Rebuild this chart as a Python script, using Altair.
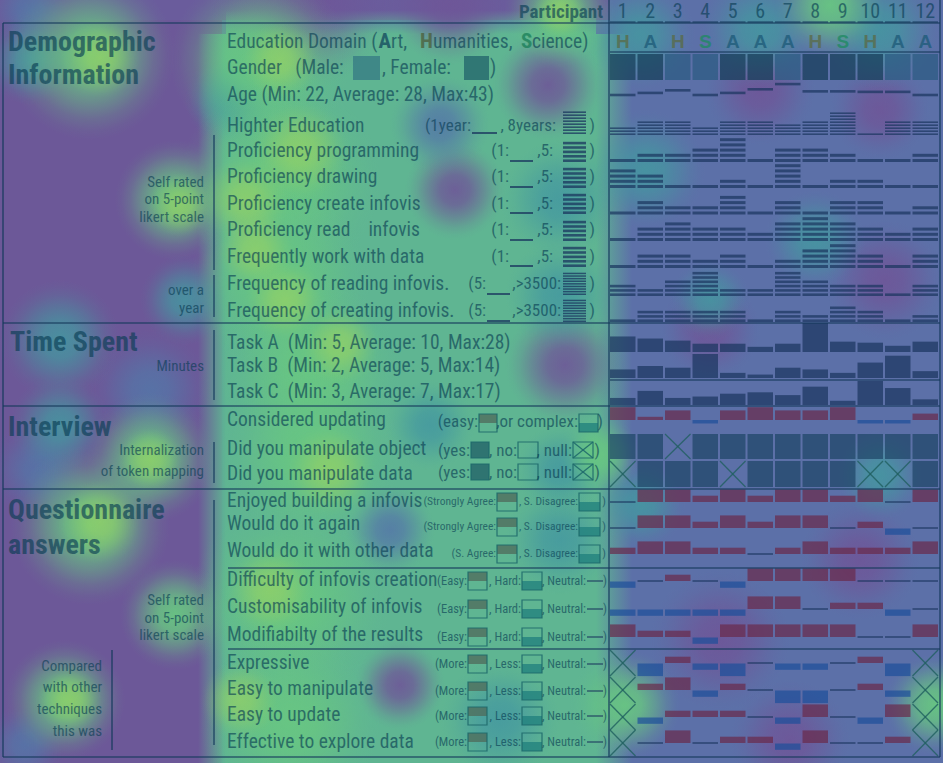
import altair as alt
import pandas as pd

W, H = 943, 763

# ---------------- participant data ----------------
participants = list(range(1, 13))
education = ["H", "A", "H", "S", "A", "A", "A", "H", "S", "H", "A", "A"]
gender = ["F", "F", "M", "M", "F", "F", "M", "F", "F", "F", "M", "M"]
age = [22, 26, 31, 22, 26, 33, 43, 29, 29, 28, 28, 22]
higher_education = [3, 5, 5, 3, 5, 5, 4, 5, 8, 1, 5, 5]
prof_programming = [1, 2, 2, 3, 5, 1, 3, 3, 2, 1, 1, 2]
prof_drawing = [4, 3, 1, 1, 2, 1, 5, 1, 2, 2, 1, 1]
prof_create = [1, 3, 2, 2, 4, 1, 3, 1, 3, 3, 1, 2]
prof_read = [1, 3, 4, 3, 3, 2, 4, 5, 4, 3, 2, 3]
work_with_data = [1, 3, 3, 2, 3, 1, 2, 4, 5, 3, 1, 3]
freq_reading = [3, 2, 4, 6, 2, 2, 6, 4, 3, 3, 1, 3]
freq_creating = [1, 3, 3, 3, 3, 1, 3, 2, 4, 3, 1, 2]
task_a = [15, 13, 11, 8, 8, 5, 8, 28, 10, 9, 6, 10]
task_b = [5, 7, 6, 14, 3, 2, 6, 5, 3, 9, 13, 4]
task_c = [5, 10, 5, 6, 8, 9, 7, 13, 3, 17, 12, 4]
considered_updating = [4, 1, 3, -1, 3, 4, 3, 3, 4, -1, -1, 2]
manipulate_object = ["yes", "yes", "null", "yes", "yes", "yes", "yes", "yes", "yes", "yes", "yes", "yes"]
manipulate_data = ["null", "yes", "yes", "yes", "null", "yes", "yes", "yes", "yes", "null", "null", "yes"]
enjoyed = [0, 2, 2, 1, 2, 1, 2, 2, 1, 2, 0, 2]
would_again = [0, 2, 2, 1, 2, 1, 2, 2, 0, 1, -1, 0]
other_data = [1, 2, 2, 1, 1, 0, 1, 2, 1, 1, 1, 2]
difficulty = [-1, 0, 1, 0, -1, 2, 2, 2, 2, 0, 0, 0]
customisability = [-1, -1, -1, -1, -1, 2, 2, 0, 1, 1, -1, 0]
modifiability = [2, 1, 1, -1, 2, 2, 2, 2, 2, 0, 0, 2]
expressive = [None, -2, 1, -1, -2, 0, -1, -1, 0, 1, -2, None]
easy_manipulate = [None, 1, 2, -1, 1, 0, -2, -2, 0, 1, -1, None]
easy_update = [None, -1, 1, 1, 1, 0, -1, 2, 0, -1, 2, None]
effective_explore = [None, 0, 2, 0, 1, 1, -1, 2, 0, 0, 1, None]

# ---------------- attention heat map ----------------
# broad zones (x0, x1, y0, y1, colour)
heat_zones = [(0, 943, 0, 763, "#5c70a8"), (0, 222, 0, 763, "#6c5898"), (0, 610, 0, 20, "#6a5c9c")]
text_zone_core = [(226, 596, 34, 763)]
text_zone_left = [(198, 226, 34, 763)]
text_zone_right = [(596, 632, 34, 763)]
text_zone_top = [(226, 596, 10, 34)]
# soft blobs (centre x, centre y, radius)
heat_purple = [(548, 85, 55), (455, 190, 50), (565, 365, 60), (400, 685, 45), (760, 90, 55),
               (880, 110, 50), (885, 280, 60), (710, 330, 50), (720, 640, 70), (790, 740, 60), (860, 560, 60),
               (450, 5, 60), (300, 0, 90)]
heat_blue = [(390, 530, 45), (440, 125, 50), (150, 390, 60), (40, 470, 50), (25, 745, 40), (30, 10, 40)]
heat_teal = [(60, 340, 60), (60, 425, 50), (185, 300, 45), (30, 60, 45), (640, 35, 55), (760, 30, 60),
             (880, 30, 60), (645, 170, 60), (815, 240, 50), (710, 300, 40), (880, 475, 45), (640, 505, 45),
             (560, 200, 60), (560, 295, 55), (430, 425, 45), (560, 540, 55), (560, 470, 45), (500, 720, 60),
             (230, 100, 45)]
heat_green = [(90, 55, 85), (175, 200, 60), (150, 458, 65), (90, 525, 80), (175, 615, 55), (65, 700, 60),
              (260, 60, 90), (280, 180, 100), (280, 280, 90), (310, 370, 90), (310, 455, 90), (290, 600, 100),
              (290, 720, 90), (600, 455, 40), (625, 705, 55), (935, 705, 50), (560, 12, 55), (830, 5, 55)]
heat_yellow = [(100, 58, 40), (300, 150, 50), (245, 200, 45), (255, 250, 40), (285, 300, 40), (180, 205, 32),
               (330, 470, 45), (100, 522, 42), (270, 590, 45), (240, 700, 40), (70, 700, 32), (150, 460, 32),
               (340, 345, 40), (560, 12, 28), (280, 60, 40)]

# ---------------- labels ----------------
row_labels = [
    ("Age (Min: 22, Average: 28, Max:43)", 95), ("Highter Education", 126),
    ("Proficiency programming", 151), ("Proficiency drawing", 177),
    ("Proficiency create infovis", 204), ("Proficiency read\u00a0\u00a0\u00a0\u00a0infovis", 230),
    ("Frequently work with data", 257), ("Frequency of reading infovis.", 284),
    ("Frequency of creating infovis.", 311),
    ("Task A\u00a0\u00a0(Min: 5, Average: 10, Max:28)", 343),
    ("Task B\u00a0\u00a0(Min: 2, Average: 5, Max:14)", 366),
    ("Task C\u00a0\u00a0(Min: 3, Average: 7, Max:17)", 392),
    ("Considered updating", 420), ("Did you manipulate object", 449), ("Did you manipulate data", 474),
    ("Enjoyed building a infovis", 501), ("Would do it again", 524), ("Would do it with other data", 551),
    ("Difficulty of infovis creation", 580), ("Customisability of infovis", 607),
    ("Modifiabilty of the results", 635), ("Expressive", 663), ("Easy to manipulate", 689),
    ("Easy to update", 715), ("Effective to explore data", 742),
]
titles = [("Demographic", 8, 43), ("Information", 8, 76), ("Time Spent", 10, 343),
          ("Interview", 8, 428), ("Questionnaire", 8, 511), ("answers", 8, 546)]
side_notes = [("Self rated", 204, 182), ("on 5-point", 204, 199), ("likert scale", 204, 217),
              ("over a", 204, 290), ("year", 204, 308), ("Minutes", 204, 366),
              ("Internalization", 204, 450), ("of token mapping", 204, 471),
              ("Self rated", 204, 600), ("on 5-point", 204, 618), ("likert scale", 204, 635),
              ("Compared", 102, 666), ("with other", 102, 687), ("techniques", 102, 709), ("this was", 102, 731)]

# ---------------- layout ----------------
COL0, PITCH, CELL = 610.0, 27.5, 25.5
FONT = "Liberation Sans Narrow, Arial Narrow, Roboto Condensed, DejaVu Sans Condensed, sans-serif"
TXT = "#073b52"
DARK = "#1a355e"
RED = "#6a2a4a"
BLUE = "#1c4f9a"
LINE = "#163a5c"
BASE = "#5c70a8"
GREEN_RGB = (95, 181, 146)

XS = alt.Scale(domain=[0, W], range=[0, W], nice=False, zero=False)
YS = alt.Scale(domain=[0, H], range=[0, H], nice=False, zero=False)


def left(p):
    return COL0 + (p - 1) * PITCH


def enc():
    return dict(x=alt.X("x:Q", scale=XS, axis=None), x2="x2:Q",
                y=alt.Y("y:Q", scale=YS, axis=None), y2="y2:Q")


def rects(rows, **mk):
    df = pd.DataFrame(rows, columns=["x", "x2", "y", "y2", "c"])
    return alt.Chart(df).mark_rect(**mk).encode(color=alt.Color("c:N", scale=None), **enc())


def rules(rows, **mk):
    df = pd.DataFrame(rows, columns=["x", "x2", "y", "y2"])
    return alt.Chart(df).mark_rule(**mk).encode(**enc())


def texts(rows, **mk):
    df = pd.DataFrame(rows, columns=["t", "x", "y"])
    return alt.Chart(df).mark_text(baseline="middle", font=FONT, **mk).encode(
        x=alt.X("x:Q", scale=XS, axis=None), y=alt.Y("y:Q", scale=YS, axis=None), text="t:N")


def fade(rows, rgb, a0, a1, horizontal=True):
    r, g, b = rgb
    grad = {"gradient": "linear", "x1": 0, "y1": 0, "x2": 1 if horizontal else 0, "y2": 0 if horizontal else 1,
            "stops": [{"offset": 0, "color": f"rgba({r},{g},{b},{a0})"},
                      {"offset": 1, "color": f"rgba({r},{g},{b},{a1})"}]}
    df = pd.DataFrame(rows, columns=["x", "x2", "y", "y2"])
    return alt.Chart(df).mark_rect(fill=grad).encode(**enc())


def blobs(data, rgb, peak=0.9):
    r, g, b = rgb
    prof = [(0, 1.0), (0.3, 0.85), (0.55, 0.5), (0.75, 0.2), (0.9, 0.05), (1, 0)]
    grad = {"gradient": "radial", "x1": 0.5, "y1": 0.5, "r1": 0, "x2": 0.5, "y2": 0.5, "r2": 0.5,
            "stops": [{"offset": o, "color": f"rgba({r},{g},{b},{peak * a:.3f})"} for o, a in prof]}
    df = pd.DataFrame([(cx - s, cx + s, cy - s, cy + s) for cx, cy, s in data], columns=["x", "x2", "y", "y2"])
    return alt.Chart(df).mark_rect(fill=grad).encode(**enc())


layers = []
layers.append(rects(heat_zones))
layers.append(fade(text_zone_core, GREEN_RGB, 1, 1))
layers.append(fade(text_zone_left, GREEN_RGB, 0, 1))
layers.append(fade(text_zone_right, GREEN_RGB, 1, 0))
layers.append(fade(text_zone_top, GREEN_RGB, 0, 1, horizontal=False))
layers.append(blobs(heat_purple, (110, 86, 152), 0.9))
layers.append(blobs(heat_blue, (84, 118, 168), 0.85))
layers.append(blobs(heat_teal, (68, 152, 160), 0.85))
layers.append(blobs(heat_green, (104, 198, 130), 0.95))
layers.append(blobs(heat_yellow, (150, 210, 100), 0.7))

# ---------------- participant marks ----------------
cells = []
for p, g in zip(participants, gender):
    cells.append((left(p), left(p) + CELL, 54, 80, "#123a55" if g == "F" else "#2a5a80"))
for p, a in zip(participants, age):
    yc = 95 - (a - 22) * 0.52
    cells.append((left(p), left(p) + CELL, yc - 1.3, yc + 1.3, DARK))
for vals, base, pitch, th in [(higher_education, 135, 3.0, 1.6), (prof_programming, 162, 5.2, 3.0),
                              (prof_drawing, 188, 5.2, 3.0), (prof_create, 214.5, 5.2, 3.0),
                              (prof_read, 241, 5.2, 3.0), (work_with_data, 268, 5.2, 3.0),
                              (freq_reading, 296, 4.3, 2.6), (freq_creating, 322, 4.3, 2.6)]:
    for p, n in zip(participants, vals):
        for i in range(n):
            y2 = base - i * pitch
            cells.append((left(p), left(p) + CELL, y2 - th, y2, DARK))
for vals, base, top in [(task_a, 352, 29 / 28), (task_b, 378, 24 / 14), (task_c, 405, 24 / 17)]:
    for p, v in zip(participants, vals):
        cells.append((left(p), left(p) + CELL, base - v * top, base, DARK))
for p, v in zip(participants, considered_updating):
    if v > 0:
        cells.append((left(p), left(p) + CELL, 420 - v * 3.2, 420, RED))
    else:
        cells.append((left(p), left(p) + CELL, 420, 420 - v * 3.5, BLUE))
crosses = []
for vals, y0, y1 in [(manipulate_object, 434, 459), (manipulate_data, 461, 487)]:
    for p, v in zip(participants, vals):
        if v == "yes":
            cells.append((left(p), left(p) + CELL, y0, y1, "#1d4565"))
        else:
            crosses.append((left(p), left(p) + CELL, y0, y1))
            crosses.append((left(p), left(p) + CELL, y1, y0))
for vals, yc in [(enjoyed, 502), (would_again, 528), (other_data, 554), (difficulty, 581),
                 (customisability, 609), (modifiability, 637), (expressive, 663),
                 (easy_manipulate, 690), (easy_update, 717), (effective_explore, 743)]:
    for p, v in zip(participants, vals):
        if v is None:
            crosses.append((left(p), left(p) + CELL, yc - 13, yc + 13))
            crosses.append((left(p), left(p) + CELL, yc + 13, yc - 13))
        elif v > 0:
            cells.append((left(p), left(p) + CELL, yc - v * 6.3, yc, RED))
        elif v < 0:
            cells.append((left(p), left(p) + CELL, yc + 0.5, yc + 0.5 - v * 6.3, BLUE))
        else:
            cells.append((left(p), left(p) + CELL, yc - 0.8, yc + 0.8, DARK))
layers.append(rects(cells, opacity=0.7))
layers.append(rules(crosses, color="#1f5f5f", strokeWidth=1.3, opacity=0.8))

# ---------------- legend glyphs in the text column ----------------
glyph = []
for y_bot, n, pitch, th in [(134, 8, 3.0, 1.6)] + [(yb, 5, 4.4, 2.6) for yb in (162, 188, 214, 241, 267)] \
        + [(yb, 9, 2.6, 1.5) for yb in (295, 322)]:
    for i in range(n):
        glyph.append((563, 586, y_bot - i * pitch - th, y_bot - i * pitch, DARK))
for x0, x1, yb in [(472, 497, 134)] + [(510, 533, yb) for yb in (162, 188, 214, 241, 267)] \
        + [(487, 510, yb) for yb in (295, 322)]:
    glyph.append((x0, x1, yb - 2, yb, DARK))
box_out = []
leg_cross = []
TOPF, BOTF = "#4f6a5a", "#1f7f7c"


def box(x0, x1, y0, y1, kind):
    box_out.append((x0, x1, y0, y1, "transparent"))
    ym = (y0 + y1) / 2
    if kind == "top":
        glyph.append((x0, x1, y0, ym, TOPF))
    elif kind == "bottom":
        glyph.append((x0, x1, ym, y1, BOTF))
    elif kind == "full":
        glyph.append((x0, x1, y0, y1, "#1f5f65"))


box(479, 497, 414, 432, "top")
box(579, 598, 414, 432, "bottom")
for y0 in (442, 464):
    box(471, 489, y0, y0 + 16, "full")
    box(518, 538, y0, y0 + 16, "none")
    box(573, 593, y0, y0 + 16, "none")
    leg_cross += [(573, 593, y0, y0 + 16), (573, 593, y0 + 16, y0)]
for y0 in (493, 518, 545):
    box(497, 517, y0, y0 + 18, "top")
    box(579, 600, y0, y0 + 18, "bottom")
for y0 in (572, 600, 628, 655, 682, 707, 733):
    box(468, 487, y0, y0 + 18, "top")
    box(522, 542, y0, y0 + 18, "bottom")
    glyph.append((587, 603, y0 + 8.3, y0 + 9.7, DARK))
layers.append(rects(glyph, opacity=0.75))
layers.append(rects(box_out, stroke="#1f6a6c", strokeWidth=1.2, opacity=0.9))
layers.append(rules(leg_cross, color="#1f6a6c", strokeWidth=1.2, opacity=0.9))

# ---------------- lines ----------------
lines = [(3, 940, 23, 23), (3, 940, 323, 323), (3, 940, 406, 406), (3, 940, 489, 489), (3, 940, 757, 757),
         (3, 3, 23, 757), (940, 940, 0, 757), (609, 609, 0, 757),
         (228, 940, 568, 568), (228, 940, 649, 649), (610, 940, 52, 52), (610, 940, 380, 380),
         (214, 214, 135, 270), (214, 214, 275, 317), (214, 214, 330, 400), (214, 214, 442, 483),
         (214, 214, 500, 745), (112, 112, 650, 750)]
layers.append(rules(lines, color=LINE, strokeWidth=1.6, opacity=0.75))

# ---------------- texts ----------------
layers.append(texts([(t, 227, y) for t, y in row_labels], align="left", fontSize=19.5, color=TXT, opacity=0.62))
layers.append(texts([("Education Domain (", 227, 42), ("rt, ", 391, 42), ("umanities, ", 433, 42),
                     ("cience)", 532, 42), ("Gender\u00a0\u00a0\u00a0(Male:", 227, 68), (", Female:", 382, 68),
                     (")", 490, 68)], align="left", fontSize=19.5, color=TXT, opacity=0.62))
layers.append(rects([(353, 380, 56, 80, "#2a6a80"), (464, 489, 56, 80, "#114f60")], opacity=0.6))
layers.append(alt.Chart(pd.DataFrame({"t": ["A", "H", "S"], "x": [378.5, 420, 521], "y": 42,
                                      "c": ["#0d3f5a", "#4a5a35", "#157a55"]}))
              .mark_text(baseline="middle", align="left", font=FONT, fontSize=21, fontWeight="bold", opacity=0.7)
              .encode(x=alt.X("x:Q", scale=XS, axis=None), y=alt.Y("y:Q", scale=YS, axis=None), text="t:N",
                      color=alt.Color("c:N", scale=None)))
layers.append(texts([(t, x, y) for t, x, y in titles], align="left", fontSize=28, fontWeight="bold",
                    color=TXT, opacity=0.62))
layers.append(texts([(t, x, y) for t, x, y in side_notes], align="right", fontSize=15, color=TXT, opacity=0.62))
legend_big = [("(1year:", 471, 126), (", 8years:", 556, 126)] + \
    [(s, x, y) for y in (151, 177, 204, 230, 257) for s, x in (("(1:", 509), (",5:", 553))] + \
    [(s, x, y) for y in (284, 311) for s, x in (("(5:", 486), (",>3500:", 561))] + \
    [(")", 595, y) for y in (126, 151, 177, 204, 230, 257, 284, 311)] + \
    [("(easy:", 478, 422), (",or complex:", 578, 422), (")", 603, 422)] + \
    [(s, x, y) for y in (451, 473) for s, x in (("(yes:", 470), (", no:", 517), (", null:", 572), (")", 600))]
layers.append(texts(legend_big, align="right", fontSize=17, color=TXT, opacity=0.62))
legend_small = [(s, x, y) for y in (502, 527) for s, x in (("(Strongly Agree:", 496), (", S. Disagree:", 578), (")", 606))] + \
    [("(S. Agree:", 496, 554), (", S. Disagree:", 578, 554), (")", 606, 554)]
layers.append(texts(legend_small, align="right", fontSize=11.5, color=TXT, opacity=0.62))
legend_small2 = [(s, x, y) for y in (581, 609, 637) for s, x in (("(Easy:", 467), (", Hard:", 521), (", Neutral:", 586), (")", 607))] + \
    [(s, x, y) for y in (664, 691, 716, 742) for s, x in (("(More:", 467), (", Less:", 521), (", Neutral:", 586), (")", 607))]
layers.append(texts(legend_small2, align="right", fontSize=12.5, color=TXT, opacity=0.62))
# header
layers.append(texts([("Participant", 603, 12)], align="right", fontSize=19, fontWeight="bold", color=TXT, opacity=0.62))
layers.append(texts([(str(p), left(p) + CELL / 2, 12) for p in participants], align="center", fontSize=20,
                    color=TXT, opacity=0.62))
layers.append(rules([(left(p), left(p) + CELL, 22, 22) for p in participants], color=LINE, strokeWidth=1.4, opacity=0.7))
edu_col = {"H": "#5a6a45", "A": "#1d5a78", "S": "#1d8a60"}
edf = pd.DataFrame({"t": education, "x": [left(p) + CELL / 2 for p in participants], "y": 42,
                    "c": [edu_col[e] for e in education]})
layers.append(alt.Chart(edf).mark_text(baseline="middle", align="center", font="Liberation Sans, Arial, sans-serif",
                                       fontSize=19, fontWeight="bold", opacity=0.75).encode(
    x=alt.X("x:Q", scale=XS, axis=None), y=alt.Y("y:Q", scale=YS, axis=None), text="t:N",
    color=alt.Color("c:N", scale=None)))

chart = alt.layer(*layers).properties(width=W, height=H, padding=0, autosize="none", background=BASE) \
    .configure_view(stroke=None)
chart.save("out.html", embed_options={"renderer": "svg", "actions": False})
